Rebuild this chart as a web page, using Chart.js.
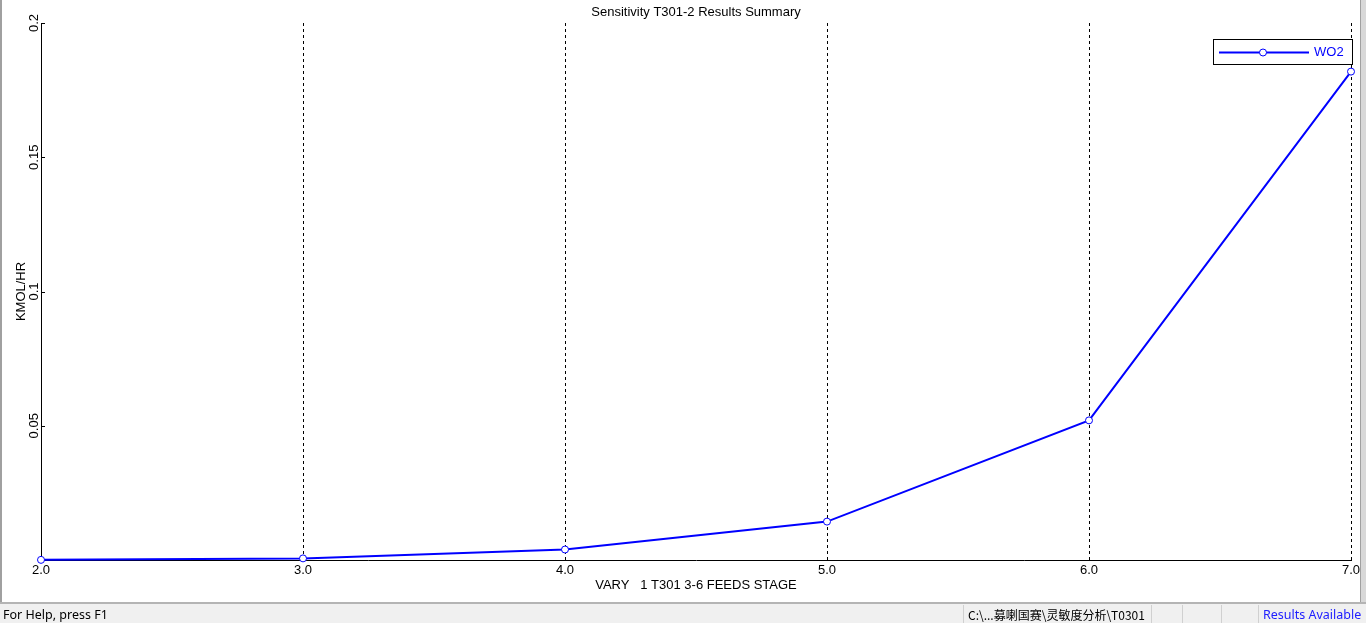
<!DOCTYPE html>
<html>
<head>
<meta charset="utf-8">
<script src="https://cdn.jsdelivr.net/npm/chart.js@4/dist/chart.umd.min.js"></script>
<style>
  html, body { margin: 0; padding: 0; background: #ffffff; overflow: hidden; }
  #wrap { position: absolute; left: 0; top: 0; width: 1366px; height: 603px; }
  #lborder { position: absolute; left: 0; top: 0; width: 2px; height: 603px; background: #a0a0a0; }
  #rborder { position: absolute; left: 1360px; top: 0; width: 6px; height: 603px; background: #d8d8d8; border-left: 1px solid #a0a0a0; box-sizing: border-box; }
  #status { position: absolute; left: 0; top: 602px; width: 1366px; height: 21px; background: #f0f0f0; border-top: 2px solid #b4b4b4; box-sizing: border-box; font-family: "Noto Sans", "Noto Sans CJK SC", sans-serif; font-size: 12.5px; color: #000; }
  .cell { position: absolute; top: 0; height: 21px; line-height: 21px; white-space: nowrap; }
  .sep { position: absolute; top: 1px; width: 1px; height: 18px; background: #d0d0d0; }
</style>
</head>
<body>
<div id="wrap"><canvas id="c" width="1366" height="603"></canvas></div>
<div id="lborder"></div>
<div id="rborder"></div>
<div id="status">
  <div class="cell" style="left:3px;">For Help, press F1</div>
  <div class="sep" style="left:963px;"></div>
  <div class="cell" style="left:968px; font-family:'Noto Sans CJK SC', sans-serif; font-size:12px;">C:\...募喇国赛\灵敏度分析\T0301</div>
  <div class="sep" style="left:1151px;"></div>
  <div class="sep" style="left:1182px;"></div>
  <div class="sep" style="left:1221px;"></div>
  <div class="sep" style="left:1258px;"></div>
  <div class="cell" style="left:1263px; color:#2020ff;">Results Available</div>
</div>
<script>
// ---- data ----
const chartTitle = "Sensitivity T301-2 Results Summary";
const xTitle = "VARY   1 T301 3-6 FEEDS STAGE";
const yTitle = "KMOL/HR";
const seriesName = "WO2";
const stages = [2, 3, 4, 5, 6, 7];
const wo2 = [0.00005, 0.0006, 0.0039, 0.0143, 0.0520, 0.1819];
const xMin = 2, xMax = 7, xStep = 1;
const yMin = 0, yMax = 0.2, yStep = 0.05;

const FONT = "'Liberation Sans', Arial, sans-serif";
const FS = 13;
const BLUE = "#0000ff";

const innerTicks = {
  id: 'innerTicks',
  afterDatasetsDraw(chart) {
    const ctx = chart.ctx;
    const ys = chart.scales.y;
    const ca = chart.chartArea;
    ctx.save();
    ctx.strokeStyle = '#000';
    ctx.lineWidth = 1;
    ys.ticks.forEach(t => {
      if (t.value === 0) return;
      const py = Math.round(ys.getPixelForValue(t.value)) + 0.5;
      ctx.beginPath();
      ctx.moveTo(ca.left, py);
      ctx.lineTo(ca.left + 4, py);
      ctx.stroke();
    });
    ctx.restore();
  }
};

const boxLegend = {
  id: 'boxLegend',
  afterDraw(chart) {
    const ctx = chart.ctx;
    const ca = chart.chartArea;
    const ds = chart.data.datasets[0];
    const w = 139, h = 25;
    const x0 = ca.right + 1 - w;
    const y0 = ca.top + 16;
    ctx.save();
    ctx.fillStyle = '#fff';
    ctx.fillRect(x0, y0, w, h);
    ctx.strokeStyle = '#000';
    ctx.lineWidth = 1;
    ctx.strokeRect(Math.round(x0) + 0.5, Math.round(y0) + 0.5, w, h);
    const cy = Math.round(y0 + h / 2) + 0.5;
    ctx.strokeStyle = ds.borderColor;
    ctx.lineWidth = 2;
    ctx.beginPath();
    ctx.moveTo(x0 + 6, cy);
    ctx.lineTo(x0 + 96, cy);
    ctx.stroke();
    ctx.beginPath();
    ctx.arc(x0 + 50, cy, 3.5, 0, Math.PI * 2);
    ctx.fillStyle = '#fff';
    ctx.fill();
    ctx.lineWidth = 1;
    ctx.stroke();
    ctx.fillStyle = ds.borderColor;
    ctx.font = FS + "px " + FONT;
    ctx.textBaseline = 'middle';
    ctx.textAlign = 'left';
    ctx.fillText(ds.label, x0 + 101, cy);
    ctx.restore();
  }
};

new Chart(document.getElementById('c'), {
  type: 'line',
  data: {
    datasets: [{
      label: seriesName,
      data: stages.map((s, i) => ({ x: s, y: wo2[i] })),
      borderColor: BLUE,
      borderWidth: 2,
      tension: 0,
      pointRadius: 3.5,
      pointBackgroundColor: '#ffffff',
      pointBorderColor: BLUE,
      pointBorderWidth: 1,
      clip: false,
      fill: false
    }]
  },
  options: {
    responsive: false,
    devicePixelRatio: 1,
    animation: false,
    layout: { padding: { left: 0, right: 15, top: 0, bottom: 0 } },
    plugins: {
      legend: { display: false },
      tooltip: { enabled: false },
      title: {
        display: true,
        text: chartTitle,
        fullSize: false,
        color: '#000',
        font: { family: FONT, size: FS, weight: 'normal' },
        padding: { top: 4.7, bottom: 2.7 }
      }
    },
    scales: {
      x: {
        type: 'linear',
        min: xMin, max: xMax,
        afterFit(s) { s.height = 43; },
        ticks: {
          stepSize: xStep,
          color: '#000',
          padding: 3,
          maxRotation: 0,
          font: { family: FONT, size: FS },
          callback: v => Number(v).toFixed(1)
        },
        grid: { display: true, color: '#000', lineWidth: 1, drawTicks: false },
        border: { display: true, color: '#000', width: 1, dash: [3, 3] },
        title: {
          display: true, text: xTitle, color: '#000',
          font: { family: FONT, size: FS },
          padding: { top: 0, bottom: 10 }
        }
      },
      y: {
        type: 'linear',
        min: yMin, max: yMax,
        afterFit(s) { s.width = 41; },
        ticks: {
          stepSize: yStep,
          color: '#000',
          minRotation: 90, maxRotation: 90,
          crossAlign: 'center',
          padding: -6,
          font: { family: FONT, size: FS },
          callback: v => (Math.abs(v) < 1e-9 ? '' : String(+Number(v).toFixed(2)))
        },
        grid: { display: false, drawTicks: false },
        border: { display: true, color: '#000', width: 1 },
        title: {
          display: true, text: yTitle, color: '#000',
          font: { family: FONT, size: FS },
          padding: { top: 14, bottom: 0 }
        }
      }
    }
  },
  plugins: [innerTicks, boxLegend]
});
</script>
</body>
</html>
